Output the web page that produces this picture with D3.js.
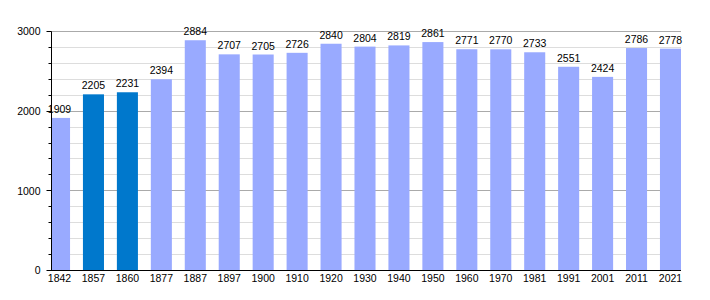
<!DOCTYPE html>
<html>
<head>
<meta charset="utf-8">
<script src="https://cdn.jsdelivr.net/npm/d3@7"></script>
<style>
  body { margin: 0; background: #fff; }
  text { font-family: "Liberation Sans", Arial, sans-serif; }
</style>
</head>
<body>
<div id="chart"></div>
<script>
// census years and population
const years = ["1842", "1857", "1860", "1877", "1887", "1897", "1900", "1910", "1920", "1930",
               "1940", "1950", "1960", "1970", "1981", "1991", "2001", "2011", "2021"];
const population = [1909, 2205, 2231, 2394, 2884, 2707, 2705, 2726, 2840, 2804,
                    2819, 2861, 2771, 2770, 2733, 2551, 2424, 2786, 2778];
// years drawn in the darker colour
const highlighted = ["1857", "1860"];
const yTicks = [0, 1000, 2000, 3000];

const width = 710, height = 300;
const plotLeft = 51, plotRight = 681, plotTop = 31, plotBottom = 270;

const svg = d3.select("#chart").append("svg")
    .attr("width", width)
    .attr("height", height);

const x = d3.scaleBand()
    .domain(years)
    .range([plotLeft - 2, plotRight])
    .paddingInner(0.38)
    .paddingOuter(0);

const y = d3.scaleLinear()
    .domain([0, 3000])
    .range([plotBottom, plotTop]);

// grid lines, light every 200, darker every 1000
const minor = d3.range(200, 3001, 200).filter(v => v % 1000 !== 0);
svg.append("g").selectAll("line")
    .data(minor)
    .enter().append("line")
    .attr("x1", plotLeft).attr("x2", plotRight)
    .attr("y1", d => Math.round(y(d)) + 0.5).attr("y2", d => Math.round(y(d)) + 0.5)
    .attr("stroke", "#dddddd");

svg.append("g").selectAll("line")
    .data(yTicks.filter(v => v > 0))
    .enter().append("line")
    .attr("x1", plotLeft).attr("x2", plotRight)
    .attr("y1", d => Math.round(y(d)) + 0.5).attr("y2", d => Math.round(y(d)) + 0.5)
    .attr("stroke", "#aaaaaa");

// bars, clipped at the y axis
svg.append("clipPath").attr("id", "plot")
    .append("rect")
    .attr("x", plotLeft).attr("y", 0)
    .attr("width", plotRight - plotLeft).attr("height", plotBottom);

svg.append("g").attr("clip-path", "url(#plot)")
    .selectAll("rect")
    .data(years)
    .enter().append("rect")
    .attr("x", d => x(d))
    .attr("width", x.bandwidth())
    .attr("y", (d, i) => y(population[i]))
    .attr("height", (d, i) => plotBottom - y(population[i]))
    .attr("fill", d => highlighted.includes(d) ? "#0078cc" : "#99aaff");

// value labels
svg.append("g").selectAll("text")
    .data(years)
    .enter().append("text")
    .attr("x", d => x(d) + x.bandwidth() / 2)
    .attr("y", (d, i) => y(population[i]) - 5)
    .attr("text-anchor", "middle")
    .attr("font-size", "10.5px")
    .attr("fill", "#000")
    .text((d, i) => population[i]);

// y axis
const yAxis = svg.append("g")
    .attr("transform", "translate(" + (plotLeft + 0.5) + ",0.5)");
yAxis.append("line")
    .attr("x1", 0).attr("x2", 0)
    .attr("y1", y(3000)).attr("y2", plotBottom)
    .attr("stroke", "#000");
yAxis.selectAll(".minor")
    .data(minor)
    .enter().append("line")
    .attr("x1", -3).attr("x2", 0)
    .attr("y1", d => Math.round(y(d))).attr("y2", d => Math.round(y(d)))
    .attr("stroke", "#000");
yAxis.selectAll(".major")
    .data(yTicks)
    .enter().append("line")
    .attr("x1", -5).attr("x2", 0)
    .attr("y1", d => Math.round(y(d))).attr("y2", d => Math.round(y(d)))
    .attr("stroke", "#000");
yAxis.selectAll("text")
    .data(yTicks)
    .enter().append("text")
    .attr("x", -11)
    .attr("y", d => y(d))
    .attr("dy", "0.35em")
    .attr("text-anchor", "end")
    .attr("font-size", "10.5px")
    .text(d => d);

// x axis
svg.append("line")
    .attr("x1", plotLeft).attr("x2", plotRight)
    .attr("y1", plotBottom + 0.5).attr("y2", plotBottom + 0.5)
    .attr("stroke", "#000");
svg.append("g").selectAll("text")
    .data(years)
    .enter().append("text")
    .attr("x", d => x(d) + x.bandwidth() / 2)
    .attr("y", plotBottom + 12)
    .attr("text-anchor", "middle")
    .attr("font-size", "10.5px")
    .text(d => d);
</script>
</body>
</html>
